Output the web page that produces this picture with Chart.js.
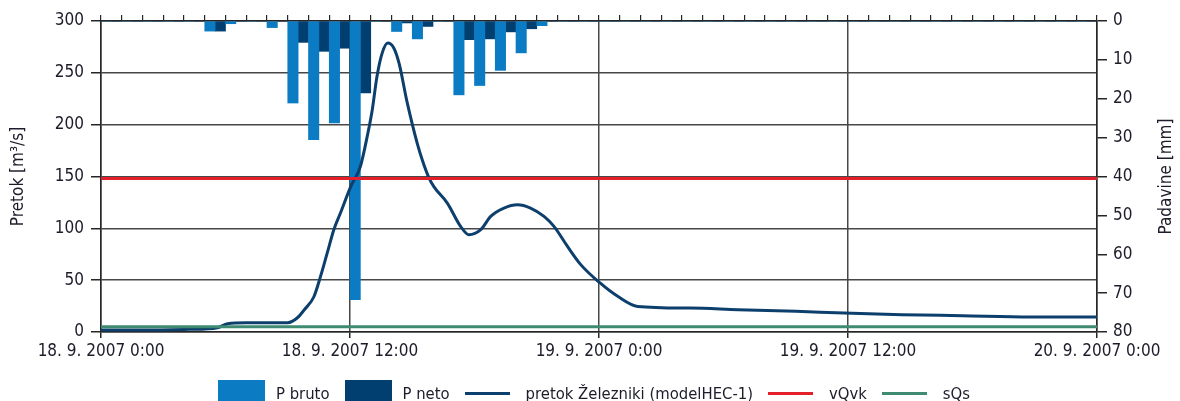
<!DOCTYPE html>
<html>
<head>
<meta charset="utf-8">
<script src="https://cdn.jsdelivr.net/npm/chart.js@4.4.1/dist/chart.umd.min.js"></script>
<style>
  html, body { margin: 0; padding: 0; background: #fff; overflow: hidden; }
  #wrap { position: relative; width: 1180px; height: 401px; }
  #legend {
    position: absolute; left: 218px; top: 380px;
    display: flex; align-items: flex-start;
    font-family: "DejaVu Sans Condensed", "DejaVu Sans", sans-serif;
    font-size: 16.5px; color: #1c1c2a; white-space: nowrap;
  }
  .box { width: 47px; height: 24px; margin-right: 11px; }
  .ln { width: 45px; height: 3px; margin-top: 12px; margin-right: 16px; }
  .txt { margin-right: 15px; line-height: 21px; padding-top: 3px; }
</style>
</head>
<body>
<div id="wrap">
  <canvas id="chart" width="1180" height="401"></canvas>
  <div id="legend"></div>
</div>
<script>
// tick labels for the bottom axis (every 12 h)
const xLabels = ['18. 9. 2007 0:00', '18. 9. 2007 12:00', '19. 9. 2007 0:00', '19. 9. 2007 12:00', '20. 9. 2007 0:00'];

// hourly precipitation [mm], hour 0..47 from 18. 9. 2007 0:00
const pBruto = [0, 0, 0, 0, 0, 2.6, 0.7, 0, 1.7, 21.1, 30.5, 26.2, 71.7, 0, 2.7, 4.6, 0, 19.0, 16.6, 12.7, 8.2, 1.2, 0, 0,
                0, 0, 0, 0, 0, 0, 0, 0, 0, 0, 0, 0, 0, 0, 0, 0, 0, 0, 0, 0, 0, 0, 0, 0];
const pNeto  = [0, 0, 0, 0, 0, 2.6, 0, 0, 0, 5.5, 7.8, 7.0, 18.5, 0, 0.5, 1.4, 0, 4.8, 4.6, 2.8, 2.0, 0, 0, 0,
                0, 0, 0, 0, 0, 0, 0, 0, 0, 0, 0, 0, 0, 0, 0, 0, 0, 0, 0, 0, 0, 0, 0, 0];

// modelled discharge pretok Železniki [m3/s]
const flowHours  = [0, 2, 4, 5, 5.6, 6.1, 7, 8, 9, 9.45, 9.8, 10.26, 10.58, 10.9, 11.22, 11.54, 12.03, 12.5, 12.83, 13.07,
                    13.3, 13.55, 13.82, 14.11, 14.36, 14.76, 15.24, 15.5, 15.8, 16.05, 16.69, 17.33, 17.73, 18.3, 18.78,
                    19.42, 20.07, 20.7, 21.35, 21.83, 22.48, 23.12, 24.05, 24.9, 25.86, 28.4, 30.7, 33.5, 35.8, 38.6,
                    41.5, 44.8, 48];
const flowValues = [2, 2, 2.5, 3, 4, 8, 9, 9, 9, 13.5, 21.5, 34, 53.6, 76, 98.7, 114.8, 140, 159.7, 188.7, 214,
                    246.5, 269, 278.7, 274, 259.5, 221, 182, 165, 149, 140, 124.4, 101.9, 93.8, 98.7, 111.5,
                    119.6, 122.8, 119.6, 111.5, 101.9, 82.6, 65, 47.3, 34.4, 24.7, 23.1, 21.5, 19.9, 18.3, 16.7,
                    15.7, 14.5, 14.5];

const vQvk = 148;
const sQs = 5;

const FONT = '"DejaVu Sans Condensed", "DejaVu Sans", sans-serif';
const TEXT = '#1c1c2a';
const GRID = '#474747';
const AXIS = '#262626';

const colors = { bruto: '#0b7cc3', neto: '#003f70', flow: '#0d3f6c', vQvk: '#e3202b', sQs: '#3f8a72' };

const barPts = arr => arr.map((v, i) => ({ x: i + 0.5, y: v }));
const flowPts = flowHours.map((h, i) => ({ x: h, y: flowValues[i] }));
const flat = v => [{ x: 0, y: v }, { x: 48, y: v }];

// right axis title reads bottom-to-top like the left one
const rightTitle = {
    id: 'rightTitle',
    afterDraw(chart) {
        const { ctx, chartArea } = chart;
        ctx.save();
        ctx.translate(1167, (chartArea.top + chartArea.bottom) / 2);
        ctx.rotate(-Math.PI / 2);
        ctx.font = '17px ' + FONT;
        ctx.fillStyle = TEXT;
        ctx.textAlign = 'center';
        ctx.textBaseline = 'middle';
        ctx.fillText('Padavine [mm]', 0, 0);
        ctx.restore();
    }
};

new Chart(document.getElementById('chart'), {
    data: {
        datasets: [
            { type: 'line', label: 'sQs', data: flat(sQs), borderColor: colors.sQs, borderWidth: 3, pointRadius: 0, yAxisID: 'y', order: 1 },
            { type: 'line', label: 'vQvk', data: flat(vQvk), borderColor: colors.vQvk, borderWidth: 3, pointRadius: 0, yAxisID: 'y', order: 2 },
            { type: 'line', label: 'pretok Železniki (modelHEC-1)', data: flowPts, borderColor: colors.flow, borderWidth: 3,
              pointRadius: 0, tension: 0.3, cubicInterpolationMode: 'monotone', yAxisID: 'y', order: 3 },
            { type: 'bar', label: 'P bruto', data: barPts(pBruto), backgroundColor: colors.bruto, yAxisID: 'y2',
              barPercentage: 1, categoryPercentage: 1, order: 4 },
            { type: 'bar', label: 'P neto', data: barPts(pNeto), backgroundColor: colors.neto, yAxisID: 'y2',
              barPercentage: 1, categoryPercentage: 1, order: 5 },
        ]
    },
    options: {
        responsive: false,
        animation: false,
        devicePixelRatio: 1,
        layout: { padding: { top: 15, left: 0, right: 0, bottom: 0 } },
        plugins: { legend: { display: false }, tooltip: { enabled: false } },
        scales: {
            x: {
                type: 'linear', position: 'bottom', min: 0, max: 48, offset: false,
                afterFit: s => { s.height = 69; },
                ticks: { stepSize: 12, padding: 3, color: TEXT, font: { family: FONT, size: 17 },
                         maxRotation: 0, autoSkip: false, callback: v => xLabels[v / 12] },
                grid: { offset: false, color: GRID, lineWidth: 1.5, tickLength: 6, tickColor: AXIS },
                border: { color: AXIS, width: 1.5 }
            },
            xTop: {
                type: 'linear', position: 'top', min: 0, max: 48, offset: false,
                afterFit: s => { s.height = 6; },
                ticks: { stepSize: 1, display: false },
                grid: { offset: false, drawOnChartArea: false, tickLength: 6, color: AXIS, lineWidth: 1.2 },
                border: { color: AXIS, width: 1.5 }
            },
            y: {
                position: 'left', min: 0, max: 300,
                afterFit: s => { s.width = 101; },
                ticks: { stepSize: 50, padding: 7, color: TEXT, font: { family: FONT, size: 17 } },
                grid: { color: GRID, lineWidth: 1.5, tickLength: 10, tickColor: AXIS },
                border: { color: AXIS, width: 1.5 },
                title: { display: true, text: 'Pretok [m³/s]', color: TEXT, font: { family: FONT, size: 17 }, padding: { top: 8 } }
            },
            y2: {
                position: 'right', min: 0, max: 80, reverse: true,
                afterFit: s => { s.width = 83; },
                ticks: { stepSize: 10, padding: 6, color: TEXT, font: { family: FONT, size: 17 } },
                grid: { drawOnChartArea: false, tickLength: 10, color: AXIS, lineWidth: 1.5 },
                border: { color: AXIS, width: 1.5 }
            }
        }
    },
    plugins: [rightTitle]
});

// legend under the plot
const legendItems = [
    { kind: 'box', color: colors.bruto, text: 'P bruto' },
    { kind: 'box', color: colors.neto, text: 'P neto' },
    { kind: 'ln', color: colors.flow, text: 'pretok Železniki (modelHEC-1)' },
    { kind: 'ln', color: colors.vQvk, text: 'vQvk' },
    { kind: 'ln', color: colors.sQs, text: 'sQs' },
];
document.getElementById('legend').innerHTML = legendItems.map(it =>
    `<div class="${it.kind}" style="background:${it.color}"></div><div class="txt">${it.text}</div>`
).join('');
</script>
</body>
</html>
